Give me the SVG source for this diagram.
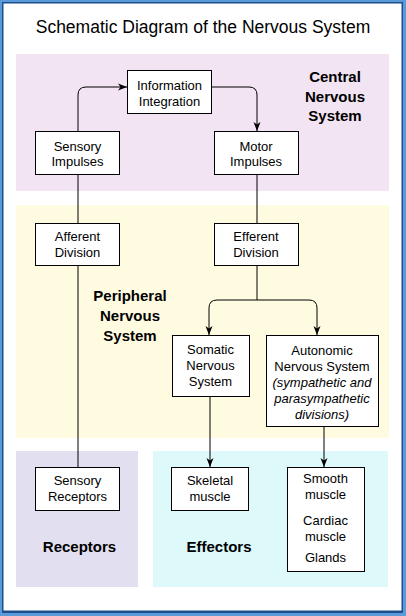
<svg xmlns="http://www.w3.org/2000/svg" width="406" height="616" viewBox="0 0 406 616">
<defs>
<style>
.t{font-family:"Liberation Sans",Arial,sans-serif;font-size:13px;fill:#000;text-anchor:middle}
.i{font-style:italic}
.h{font-family:"Liberation Sans",Arial,sans-serif;font-size:15px;font-weight:bold;fill:#000;text-anchor:middle}
.box{fill:#fff;stroke:#000;stroke-width:1}
.c{fill:none;stroke:#000;stroke-width:1}
</style>
<marker id="ar" markerUnits="userSpaceOnUse" markerWidth="10" markerHeight="10" refX="9" refY="4" orient="auto">
<path d="M0,0.5 L9,4 L0,7.5 L2.5,4 Z" fill="#000"/>
</marker>
</defs>
<rect x="0" y="0" width="406" height="616" fill="#5a9ad8"/>
<rect x="2" y="2" width="401" height="611" fill="#1d4f8f"/>
<rect x="3.5" y="3.5" width="398" height="607" fill="#fff"/>
<text x="203" y="33" font-family="Liberation Sans, Arial, sans-serif" font-size="17.5" text-anchor="middle">Schematic Diagram of the Nervous System</text>
<g id="regions">
<rect x="16" y="54" width="373" height="137" fill="#f2e4f2"/>
<rect x="16" y="205" width="373" height="233" fill="#fffbe0"/>
<rect x="16" y="451" width="122" height="136" fill="#e2e0f0"/>
<rect x="153" y="451" width="235" height="136" fill="#ddf9f9"/>
</g>
<g id="region-labels">
<text class="h" x="335" y="82">Central</text>
<text class="h" x="335" y="102">Nervous</text>
<text class="h" x="335" y="121">System</text>
<text class="h" x="130" y="301">Peripheral</text>
<text class="h" x="130" y="321">Nervous</text>
<text class="h" x="130" y="341">System</text>
<text class="h" x="79.5" y="552">Receptors</text>
<text class="h" x="219" y="552">Effectors</text>
</g>
<g id="connectors">
<path class="c" d="M78,467 V265"/>
<path class="c" d="M78,223 V174"/>
<path class="c" d="M78,131 V95 Q78,87 86,87 H127" marker-end="url(#ar)"/>
<path class="c" d="M211,87 H249 Q257,87 257,95 V131" marker-end="url(#ar)"/>
<path class="c" d="M257,174 V223"/>
<path class="c" d="M257,265 V300 H217 Q209,300 209,308 V335" marker-end="url(#ar)"/>
<path class="c" d="M257,300 H309 Q317,300 317,308 V335" marker-end="url(#ar)"/>
<path class="c" d="M210,396 V467" marker-end="url(#ar)"/>
<path class="c" d="M324,426 V467" marker-end="url(#ar)"/>
</g>
<g id="information-integration">
<rect class="box" x="127.5" y="70.5" width="84" height="43"/>
<text class="t" x="169.5" y="90">Information</text>
<text class="t" x="169.5" y="106">Integration</text>
</g>
<g id="sensory-impulses">
<rect class="box" x="35.5" y="131.5" width="84" height="43"/>
<text class="t" x="77.5" y="150.5">Sensory</text>
<text class="t" x="77.5" y="166">Impulses</text>
</g>
<g id="motor-impulses">
<rect class="box" x="214.5" y="131.5" width="84" height="43"/>
<text class="t" x="256" y="150.5">Motor</text>
<text class="t" x="256" y="166">Impulses</text>
</g>
<g id="afferent-division">
<rect class="box" x="35.5" y="223.5" width="84" height="42"/>
<text class="t" x="77.5" y="241">Afferent</text>
<text class="t" x="77.5" y="257">Division</text>
</g>
<g id="efferent-division">
<rect class="box" x="214.5" y="223.5" width="84" height="42"/>
<text class="t" x="256" y="241">Efferent</text>
<text class="t" x="256" y="257">Division</text>
</g>
<g id="somatic-nervous-system">
<rect class="box" x="172.5" y="335.5" width="77" height="61"/>
<text class="t" x="210.5" y="354">Somatic</text>
<text class="t" x="210.5" y="370">Nervous</text>
<text class="t" x="210.5" y="386">System</text>
</g>
<g id="autonomic-nervous-system">
<rect class="box" x="266.5" y="335.5" width="112" height="91"/>
<text class="t" x="322" y="355">Autonomic</text>
<text class="t" x="322" y="371">Nervous System</text>
<text class="t i" x="322" y="387">(sympathetic and</text>
<text class="t i" x="322" y="403">parasympathetic</text>
<text class="t i" x="322" y="419">divisions)</text>
</g>
<g id="sensory-receptors">
<rect class="box" x="35.5" y="467.5" width="84" height="43"/>
<text class="t" x="77.5" y="485">Sensory</text>
<text class="t" x="77.5" y="501">Receptors</text>
</g>
<g id="skeletal-muscle">
<rect class="box" x="171.5" y="467.5" width="77" height="43"/>
<text class="t" x="210" y="485">Skeletal</text>
<text class="t" x="210" y="501">muscle</text>
</g>
<g id="smooth-cardiac-glands">
<rect class="box" x="287.5" y="467.5" width="77" height="104"/>
<text class="t" x="325.5" y="483">Smooth</text>
<text class="t" x="325.5" y="499">muscle</text>
<text class="t" x="325.5" y="525">Cardiac</text>
<text class="t" x="325.5" y="541">muscle</text>
<text class="t" x="325.5" y="562">Glands</text>
</g>
</svg>
